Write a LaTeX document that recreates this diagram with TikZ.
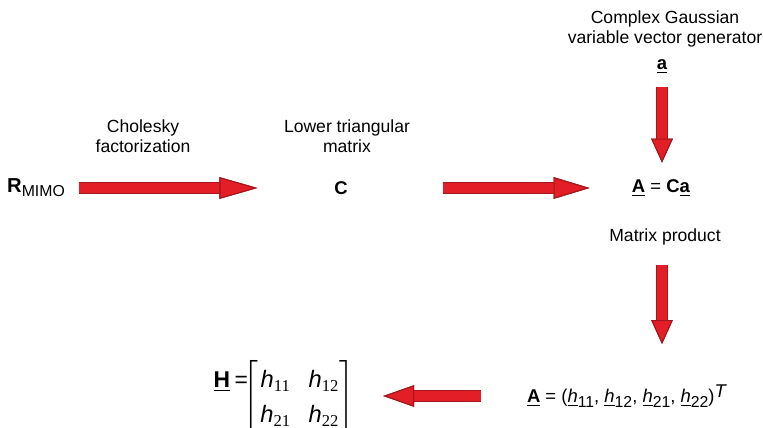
\documentclass[tikz,border=0pt]{standalone}
\usepackage{amsmath}
\usepackage{fontspec}
\setmainfont{Liberation Sans}
\newfontfamily\subfont{Liberation Serif}
\usepackage{xcolor}
\usepackage{tikz}
\usetikzlibrary{arrows.meta}

\definecolor{arrowred}{HTML}{E41E26}
\definecolor{arrowrim}{HTML}{A3161D}
\newcommand{\lowsub}[1]{\raisebox{-2.4pt}{\fontsize{9}{9}\selectfont #1}}
\newcommand{\uvec}[1]{\underline{\textbf{#1}}}
\newcommand{\hent}[1]{\text{\itshape h}_{\text{\subfont #1}}}

\begin{document}
\begin{tikzpicture}[
x=0.02cm, y=-0.02cm,
font=\fontsize{10}{11.5}\selectfont,
caption/.style={align=center, inner sep=2pt},
symb/.style={inner sep=2pt, font=\fontsize{10.5}{12}\selectfont},
fat/.style={draw=arrowred, line width=0.2cm,
  -{Triangle[length=#1, width=0.43cm, line width=0.6pt, color=arrowrim, fill=arrowred]},
  preaction={draw=arrowrim, line width=0.24cm, -{Triangle[length=#1, width=0.43cm, line width=0.6pt]}}},
fat/.default=0.76cm
]
\useasboundingbox (0,0) rectangle (763,428);

% labels
\node[caption] (chol) at (143,136) {Cholesky\\factorization};
\node[caption] (lowtri) at (347,136) {Lower triangular\\matrix};
\node[caption] (cgauss) at (665,29) {Complex Gaussian\\variable vector generator};
\node[caption] (mprod) at (665,237) {Matrix product};

% symbols
\node[symb] (rmimo) at (36,188) {{\fontsize{11.5}{12}\selectfont\textbf{R}}\lowsub{MIMO}};
\node[symb] (cmat) at (341,188) {\textbf{C}};
\node[symb] (aca) at (661,188) {\uvec{A} = \textbf{C}\uvec{a}};
\node[symb] (avec) at (662,67) {\uvec{a}};
\node[symb] (aeq) at (627,396) {\uvec{A} = (\underline{\textit{h}}\lowsub{11}, \underline{\textit{h}}\lowsub{12}, \underline{\textit{h}}\lowsub{21}, \underline{\textit{h}}\lowsub{22})\raisebox{3pt}{\textit{T}}};
\node[inner sep=1pt, font=\fontsize{13.5}{20}\selectfont] (hmat) at (299,398)
  {\arraycolsep=5pt$\left[\begin{array}{@{\hspace{1pt}}cc@{\hspace{0pt}}} \hent{11} & \hent{12}\\ \hent{21} & \hent{22} \end{array}\right]$};
\node[anchor=base east, inner sep=0pt, xshift=0.13cm, font=\fontsize{13}{16}\selectfont] (hname) at (hmat.west |- 0,387) {\uvec{H}\hspace{2.5pt}=};

% arrows
\draw[fat, shorten <=0.2cm, shorten >=1.46cm] (rmimo) -- (cmat);
\draw[fat=0.72cm, shorten <=1.82cm, shorten >=0.77cm] (cmat) -- (aca);
\draw[fat=0.48cm, shorten <=0.18cm, shorten >=0.26cm] (avec.south) -- (avec |- aca.north);
\draw[fat=0.48cm, shorten <=0.32cm, shorten >=0.74cm] (mprod.south -| avec) -- (aeq.north -| avec);
\draw[fat=0.62cm, shorten <=0.84cm, shorten >=0.54cm] (aeq.west) -- (aeq.west -| hmat.east);
\end{tikzpicture}
\end{document}
